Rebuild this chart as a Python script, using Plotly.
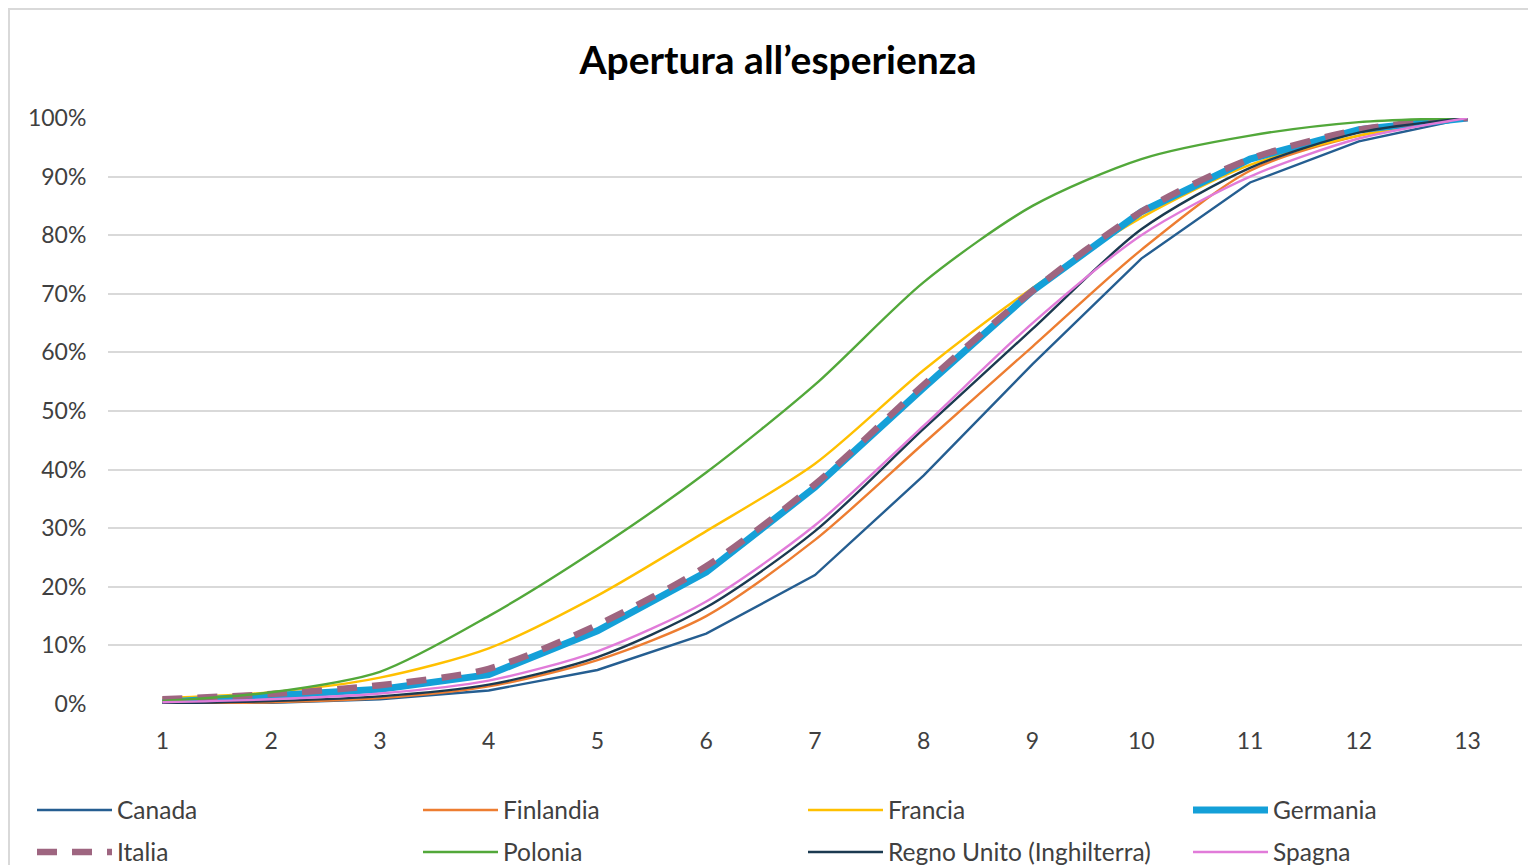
import plotly.graph_objects as go

categories = list(range(1, 14))
tick_labels = [str(c) for c in categories]
y_ticks = [i / 10 for i in range(11)]
y_tick_labels = [f"{i*10}%" for i in range(11)]

canada = [0.000, 0.002, 0.008, 0.023, 0.058, 0.120, 0.220, 0.390, 0.580, 0.760, 0.890, 0.960, 1.000]
finlandia = [0.000, 0.003, 0.010, 0.030, 0.075, 0.150, 0.280, 0.445, 0.610, 0.775, 0.910, 0.970, 1.000]
francia = [0.010, 0.020, 0.045, 0.095, 0.185, 0.295, 0.410, 0.570, 0.710, 0.830, 0.920, 0.970, 1.000]
germania = [0.003, 0.013, 0.025, 0.050, 0.125, 0.225, 0.370, 0.540, 0.705, 0.840, 0.930, 0.980, 1.000]
italia = [0.008, 0.017, 0.032, 0.060, 0.135, 0.235, 0.375, 0.545, 0.705, 0.840, 0.930, 0.980, 1.000]
polonia = [0.005, 0.020, 0.055, 0.150, 0.265, 0.395, 0.545, 0.720, 0.850, 0.930, 0.970, 0.993, 1.000]
regno_unito = [0.001, 0.005, 0.013, 0.033, 0.080, 0.165, 0.295, 0.470, 0.640, 0.810, 0.915, 0.975, 1.000]
spagna = [0.003, 0.008, 0.018, 0.040, 0.090, 0.175, 0.305, 0.475, 0.650, 0.800, 0.900, 0.965, 1.000]

series = [
    ("Canada", canada, dict(color="#255E91", width=2.4), "linear"),
    ("Finlandia", finlandia, dict(color="#ED7D31", width=2.4), "spline"),
    ("Francia", francia, dict(color="#FFC000", width=2.4), "spline"),
    ("Germania", germania, dict(color="#14A0D8", width=7), "linear"),
    ("Italia", italia, dict(color="#9E6580", width=6.5, dash="20px,15px"), "spline"),
    ("Polonia", polonia, dict(color="#52A83A", width=2.4), "spline"),
    ("Regno Unito (Inghilterra)", regno_unito, dict(color="#1B3A50", width=2.4), "spline"),
    ("Spagna", spagna, dict(color="#E17BD9", width=2.4), "spline"),
]

# page body has an 8px margin; work in page pixels and convert
OFF = 8
W, H = 1536 - OFF, 865 - OFF
L = 108 - OFF
R = W - (1522 - OFF)
T = 118 - OFF
B = H - (704 - OFF)
pw = W - L - R
ph = H - T - B

def px_x(p):
    return (p - OFF - L) / pw

def px_y(p):
    return (H - B - (p - OFF)) / ph

legend_cols = [117, 503, 888, 1273]
legend_rows = [810, 852]

fig = go.Figure()
legends = {}
for i, (name, vals, line, shape) in enumerate(series):
    ln = dict(line)
    ln["shape"] = shape
    if shape == "spline":
        ln["smoothing"] = 0.8
    key = "legend" if i == 0 else f"legend{i+1}"
    fig.add_trace(go.Scatter(x=categories, y=vals, name=name, mode="lines", line=ln,
                             legend=key))
    col, row = i % 4, i // 4
    legends[key] = dict(
        x=px_x(legend_cols[col] - 85), y=px_y(legend_rows[row]),
        xanchor="left", yanchor="middle", orientation="v",
        font=dict(size=24.5, color="#404040"), bgcolor="rgba(0,0,0,0)",
        itemwidth=75,
    )

fig.add_shape(type="rect", xref="paper", yref="paper",
              x0=px_x(OFF + 1), x1=px_x(1545), y0=px_y(880), y1=px_y(OFF + 1),
              line=dict(color="#D9D9D9", width=2), fillcolor="rgba(0,0,0,0)", layer="below")

fig.update_layout(
    width=W, height=H, autosize=False,
    margin=dict(l=L, r=R, t=T, b=B, autoexpand=False),
    paper_bgcolor="white", plot_bgcolor="white",
    font=dict(family="Lato, 'Open Sans', sans-serif", color="#404040", size=21),
    title=dict(text="<b>Apertura all\u2019esperienza</b>", x=(778 - OFF) / W, xref="container",
               xanchor="center", y=1 - (60 - OFF) / H, yanchor="middle",
               font=dict(size=39, color="#000000", family="Lato, sans-serif")),
    xaxis=dict(range=[0.5, 13.5], tickmode="array", tickvals=categories, ticktext=tick_labels,
               showgrid=False, zeroline=False, showline=False,
               ticks="outside", ticklen=16, tickcolor="rgba(0,0,0,0)",
               tickfont=dict(size=23, color="#404040")),
    yaxis=dict(range=[0, 1], tickmode="array", tickvals=y_ticks, ticktext=y_tick_labels,
               showgrid=True, gridcolor="#D9D9D9", gridwidth=2, zeroline=False, showline=False,
               ticks="outside", ticklen=16, tickcolor="rgba(0,0,0,0)",
               tickfont=dict(size=23, color="#404040")),
    showlegend=True,
    **legends,
)

fig.write_html("out.html")
